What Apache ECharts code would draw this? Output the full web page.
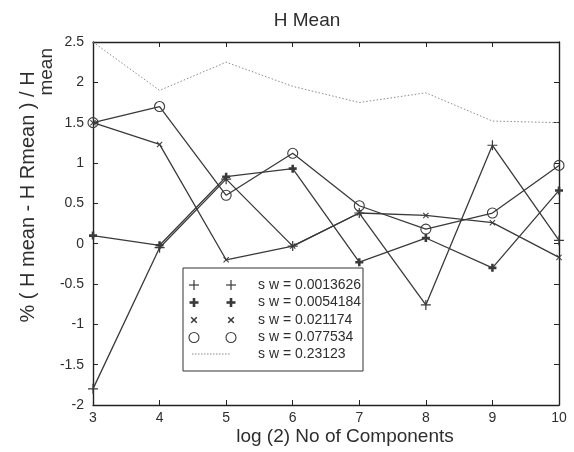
<!DOCTYPE html>
<html>
<head>
<meta charset="utf-8">
<script src="https://cdn.jsdelivr.net/npm/echarts@6/dist/echarts.min.js"></script>
<style>
html,body{margin:0;padding:0;background:#fff;}
#chart{width:574px;height:452px;}
</style>
</head>
<body>
<div id="chart"></div>
<script>
// ---- data ----
const xValues = [3, 4, 5, 6, 7, 8, 9, 10];
const seriesNames = ['s w = 0.0013626', 's w = 0.0054184', 's w = 0.021174', 's w = 0.077534', 's w = 0.23123'];
const sPlus    = [-1.8, -0.05, 0.80, -0.03, 0.38, -0.76, 1.22, 0.04];
const sFilled  = [0.10, -0.02, 0.83, 0.93, -0.23, 0.07, -0.30, 0.66];
const sCross   = [1.50, 1.23, -0.20, -0.03, 0.38, 0.35, 0.26, -0.17];
const sCircle  = [1.50, 1.70, 0.60, 1.12, 0.47, 0.18, 0.38, 0.97];
const sDotted  = [2.50, 1.90, 2.25, 1.95, 1.75, 1.87, 1.52, 1.50];
const titleText = 'H Mean';
const xLabelText = 'log (2) No of Components';
const yLabelLines = ['% ( H mean - H Rmean ) / H', 'mean'];

// ---- styling ----
const LINE = '#3a3a3a';
const TXT = '#2e2e2e';
const FONT = '"Liberation Sans", Arial, sans-serif';
const SYM = {
  plus: 'path://M4.4,0H5.6V10H4.4Z M0,4.4H10V5.6H0Z',
  filled: 'path://M3.4,0H6.6V10H3.4Z M0,3.4H10V6.6H0Z',
  cross: 'path://M0,1.2L1.2,0L5,3.8L8.8,0L10,1.2L6.2,5L10,8.8L8.8,10L5,6.2L1.2,10L0,8.8L3.8,5Z'
};
function pairs(vals){ return xValues.map((x,i)=>[x, vals[i]]); }
function lineSeries(name, vals, symbol, size, extra){
  return Object.assign({
    name: name, type: 'line', data: pairs(vals),
    symbol: symbol, symbolSize: size,
    lineStyle: {color: LINE, width: 1.3},
    itemStyle: {color: LINE, borderWidth: 0},
    animation: false, z: 3
  }, extra || {});
}

const chart = echarts.init(document.getElementById('chart'), null, {renderer: 'canvas'});

// legend graphic
const LX = 183, LY = 268, LW = 180, LH = 103;
const rowsY = [285, 302.5, 320, 337.5, 354];
const mX = [194, 231];
const legend = [{type:'rect', shape:{x:LX, y:LY, width:LW, height:LH}, style:{fill:'#fff', stroke:'#333', lineWidth:1}, z:100}];
function marker(kind, cx, cy){
  const out = [];
  if (kind === 'plus' || kind === 'filled') {
    const w = kind === 'plus' ? 1.2 : 2.6, r = kind === 'plus' ? 5 : 4.5;
    out.push({type:'line', shape:{x1:cx-r,y1:cy,x2:cx+r,y2:cy}, style:{stroke:LINE, lineWidth:w}, z:101});
    out.push({type:'line', shape:{x1:cx,y1:cy-r,x2:cx,y2:cy+r}, style:{stroke:LINE, lineWidth:w}, z:101});
  } else if (kind === 'cross') {
    const r = 2.8;
    out.push({type:'line', shape:{x1:cx-r,y1:cy-r,x2:cx+r,y2:cy+r}, style:{stroke:LINE, lineWidth:1.5}, z:101});
    out.push({type:'line', shape:{x1:cx-r,y1:cy+r,x2:cx+r,y2:cy-r}, style:{stroke:LINE, lineWidth:1.5}, z:101});
  } else if (kind === 'circle') {
    out.push({type:'circle', shape:{cx:cx, cy:cy, r:5}, style:{fill:'none', stroke:LINE, lineWidth:1.1}, z:101});
  }
  return out;
}
const kinds = ['plus', 'filled', 'cross', 'circle', 'dotted'];
kinds.forEach((k, i) => {
  if (k === 'dotted') {
    legend.push({type:'line', shape:{x1:mX[0]-2, y1:rowsY[i], x2:mX[1]-1, y2:rowsY[i]}, style:{stroke:'#8a8a8a', lineWidth:1, lineDash:[1.5,1.5]}, z:101});
  } else {
    marker(k, mX[0], rowsY[i]).forEach(e => legend.push(e));
    marker(k, mX[1], rowsY[i]).forEach(e => legend.push(e));
  }
  legend.push({type:'text', x:258, y:rowsY[i], style:{text:seriesNames[i], font:'14px ' + FONT, fill:TXT, align:'left', verticalAlign:'middle'}, z:101});
});

const texts = [
  {type:'text', x:307, y:21, style:{text:titleText, font:'19px ' + FONT, fill:TXT, align:'center', verticalAlign:'middle'}},
  {type:'text', x:345, y:437, style:{text:xLabelText, font:'19px ' + FONT, fill:TXT, align:'center', verticalAlign:'middle'}},
  {type:'text', x:28, y:197, rotation:Math.PI/2, style:{text:yLabelLines[0], font:'20px ' + FONT, fill:TXT, align:'center', verticalAlign:'middle'}},
  {type:'text', x:47, y:48, rotation:Math.PI/2, style:{text:yLabelLines[1], font:'19px ' + FONT, fill:TXT, align:'right', verticalAlign:'middle'}}
];

const axisCommon = {
  type: 'value', min: 3, max: 10, interval: 1,
  axisLine: {show: true, onZero: false, lineStyle: {color: '#222', width: 1.4}},
  axisTick: {show: true, inside: true, length: 5, lineStyle: {color: '#222', width: 1}},
  splitLine: {show: false}
};
const yCommon = {
  type: 'value', min: -2, max: 2.5, interval: 0.5,
  axisLine: {show: true, onZero: false, lineStyle: {color: '#222', width: 1.4}},
  axisTick: {show: true, inside: true, length: 5, lineStyle: {color: '#222', width: 1}},
  splitLine: {show: false}
};

chart.setOption({
  backgroundColor: '#ffffff',
  animation: false,
  grid: {left: 93, right: 15, top: 42, bottom: 47, containLabel: false},
  xAxis: [
    Object.assign({}, axisCommon, {position: 'bottom', axisLabel: {show: true, margin: 6, color: TXT, fontSize: 14, fontFamily: FONT}}),
    Object.assign({}, axisCommon, {position: 'top', axisLabel: {show: false}})
  ],
  yAxis: [
    Object.assign({}, yCommon, {position: 'left', axisLabel: {show: true, margin: 9, color: TXT, fontSize: 14, fontFamily: FONT}}),
    Object.assign({}, yCommon, {position: 'right', axisLabel: {show: false}})
  ],
  series: [
    lineSeries(seriesNames[4], sDotted, 'none', 0, {lineStyle: {color: '#8a8a8a', width: 1, type: [1.5, 2]}, z: 2}),
    lineSeries(seriesNames[0], sPlus, SYM.plus, 10),
    lineSeries(seriesNames[1], sFilled, SYM.filled, 8),
    lineSeries(seriesNames[2], sCross, SYM.cross, 6),
    lineSeries(seriesNames[3], sCircle, 'circle', 10, {itemStyle: {color: 'rgba(0,0,0,0)', borderColor: LINE, borderWidth: 1.1}})
  ],
  graphic: texts.concat(legend)
});
</script>
</body>
</html>
